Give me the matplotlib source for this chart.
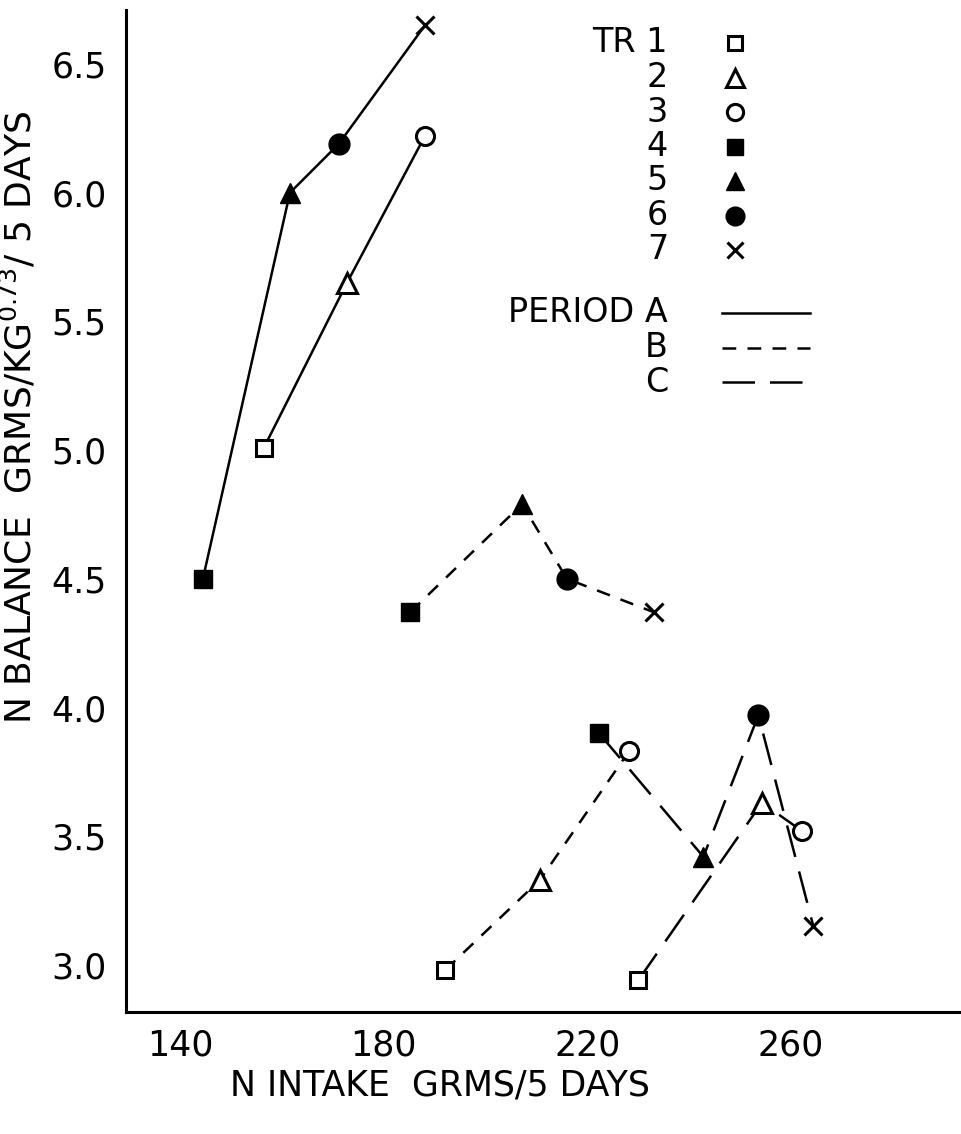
import matplotlib
matplotlib.use("Agg")
import matplotlib.pyplot as plt

# ---------------- data ----------------
treatments = ["1", "2", "3", "4", "5", "6", "7"]
periods = ["A", "B", "C"]

# x = N intake (g / 5 days), y = N balance (g/kg^0.73 / 5 days), order TR1..TR7
period_a_x = [156.5, 172.8, 188.1, 144.5, 161.6, 171.2, 188.1]
period_a_y = [5.01, 5.65, 6.22, 4.50, 6.00, 6.19, 6.65]
period_b_x = [192.1, 210.7, 228.2, 185.2, 207.2, 216.0, 233.1]
period_b_y = [2.98, 3.33, 3.83, 4.37, 4.79, 4.50, 4.37]
period_c_x = [230.0, 254.3, 262.2, 222.3, 242.8, 253.6, 264.4]
period_c_y = [2.94, 3.63, 3.52, 3.90, 3.42, 3.97, 3.15]

x_ticks = [140, 180, 220, 260]
y_ticks = [3.0, 3.5, 4.0, 4.5, 5.0, 5.5, 6.0, 6.5]

# ---------------- styles ----------------
FONT = ["DejaVu Sans"]
NARROW = ["DejaVu Sans Condensed", "Liberation Sans Narrow", "DejaVu Sans"]
marker_styles = [
    dict(marker="s", ms=11, mfc="white", mec="black", mew=2.2),
    dict(marker="^", ms=14, mfc="white", mec="black", mew=2.2),
    dict(marker="o", ms=13, mfc="white", mec="black", mew=2.2),
    dict(marker="s", ms=13, mfc="black", mec="black", mew=1),
    dict(marker="^", ms=15, mfc="black", mec="black", mew=1),
    dict(marker="o", ms=15, mfc="black", mec="black", mew=1),
    dict(marker="x", ms=13, mfc="black", mec="black", mew=2.2),
]
line_styles = {
    "A": dict(ls="-"),
    "B": dict(ls=(0, (5.5, 4.5))),
    "C": dict(ls=(0, (13, 6))),
}

fig = plt.figure(figsize=(9.61, 11.34), dpi=100)
ax = fig.add_axes([126 / 961, 1 - 1012 / 1134, 1 - 126 / 961, (1012 - 10) / 1134])

data = {"A": (period_a_x, period_a_y), "B": (period_b_x, period_b_y), "C": (period_c_x, period_c_y)}
for p in periods:
    xs, ys = data[p]
    for grp in (slice(0, 3), slice(3, 7)):
        ax.plot(xs[grp], ys[grp], color="black", lw=1.8, zorder=2, **line_styles[p])
    for i in range(7):
        ax.plot([xs[i]], [ys[i]], ls="none", zorder=3, **marker_styles[i])

ax.set_xlim(129.4, 293.4)
ax.set_ylim(2.817, 6.71)
ax.set_xticks(x_ticks)
ax.set_xticklabels([str(v) for v in x_ticks], family=FONT, fontsize=25)
ax.set_yticks(y_ticks)
ax.set_yticklabels([f"{v:.1f}" for v in y_ticks], family=FONT, fontsize=25)
ax.tick_params(length=0, pad=14)
ax.tick_params(axis="x", pad=12)
for s in ("top", "right"):
    ax.spines[s].set_visible(False)
for s in ("left", "bottom"):
    ax.spines[s].set_linewidth(2.2)

ax.set_xlabel("N INTAKE  GRMS/5 DAYS", family=NARROW, fontsize=25)
ax.xaxis.set_label_coords(0.376, -0.056)
ax.set_ylabel("N BALANCE  GRMS/KG$^{0.73}$/ 5 DAYS", family=NARROW, fontsize=26)
ax.yaxis.set_label_coords(-0.105, 0.593)

# ---------------- legend (key drawn at top right) ----------------
def fx(px):
    return px / 961

def fy(py):
    return 1 - py / 1134

row0, step = 43, 34.5
for i, t in enumerate(treatments):
    lab = "TR " + t if i == 0 else t
    yy = row0 + i * step
    fig.text(fx(668), fy(yy), lab, ha="right", va="center", family=FONT, fontsize=24)
    ms = dict(marker_styles[i])
    ms["ms"] = ms["ms"] * 0.9
    fig.add_artist(plt.Line2D([fx(735)], [fy(yy)], ls="none", transform=fig.transFigure, **ms))

prow0, pstep = 313, 34.5
for j, p in enumerate(periods):
    yy = prow0 + j * pstep
    lab = "PERIOD " + p if j == 0 else p
    fig.text(fx(668), fy(yy), lab, ha="right", va="center", family=FONT, fontsize=24)
    fig.add_artist(plt.Line2D([fx(722), fx(810)], [fy(yy), fy(yy)], color="black", lw=1.8,
                              transform=fig.transFigure, **line_styles[p]))

fig.savefig("out.png", dpi=100, facecolor="white")
